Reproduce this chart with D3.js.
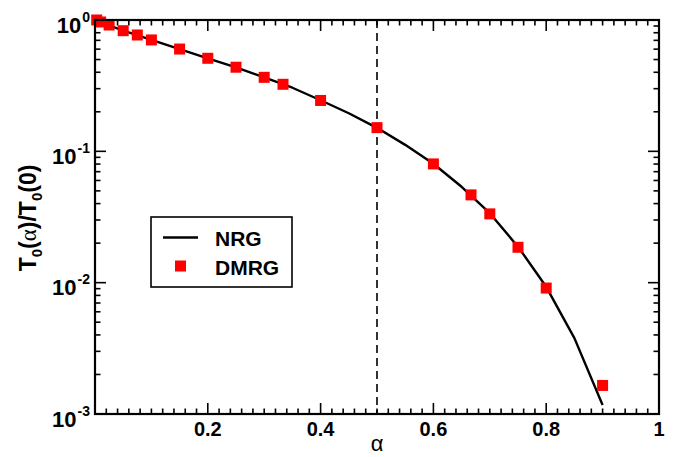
<!DOCTYPE html>
<html>
<head>
<meta charset="utf-8">
<script src="https://cdn.jsdelivr.net/npm/d3@7"></script>
<style>
  html, body { margin: 0; padding: 0; background: #fff; }
  svg { display: block; }
  text { font-family: "Liberation Sans", Arial, Helvetica, sans-serif; }
</style>
</head>
<body>
<svg id="chart" width="690" height="457"></svg>
<script>
// NRG curve: T0(alpha)/T0(0)
const nrgAlpha = [0, 0.05, 0.1, 0.15, 0.2, 0.25, 0.3, 0.35, 0.4, 0.45, 0.5, 0.55, 0.6, 0.65, 0.7, 0.75, 0.8, 0.85, 0.9];
const nrgValue = [1.0, 0.83, 0.705, 0.60, 0.51, 0.436, 0.366, 0.305, 0.245, 0.195, 0.151, 0.112, 0.0805, 0.0537, 0.0338, 0.0188, 0.0093, 0.00378, 0.00117];

// DMRG points
const dmrgAlpha = [0.003, 0.01, 0.025, 0.05, 0.075, 0.1, 0.15, 0.2, 0.25, 0.3, 1/3, 0.4, 0.5, 0.6, 2/3, 0.7, 0.75, 0.8, 0.9];
const dmrgValue = [1.0, 0.966, 0.916, 0.829, 0.769, 0.705, 0.601, 0.511, 0.437, 0.366, 0.324, 0.244, 0.1515, 0.0802, 0.0466, 0.0334, 0.0186, 0.0091, 0.00165];

// Axis ticks
const xMajorTicks = [0.2, 0.4, 0.6, 0.8, 1];
const xTickLabels = ["0.2", "0.4", "0.6", "0.8", "1"];
const yMajorTicks = [1, 0.1, 0.01, 0.001];
const yTickExponents = ["0", "-1", "-2", "-3"];
const criticalAlpha = 0.5;

const seriesNames = ["NRG", "DMRG"];

const svg = d3.select("#chart");
const pLeft = 95, pRight = 659, pTop = 20, pBottom = 414;

const x = d3.scaleLinear().domain([0, 1]).range([pLeft, pRight]);
const y = d3.scaleLog().domain([1e-3, 1]).range([pBottom, pTop]);

// minor ticks
const xMinor = d3.range(0, 1.0001, 0.02).map(v => +v.toFixed(2))
  .filter(v => !xMajorTicks.some(m => Math.abs(m - v) < 1e-9) && v > 0 && v < 1);
const yMinor = [];
[1e-3, 1e-2, 1e-1].forEach(d => { for (let k = 2; k <= 9; k++) yMinor.push(d * k); });

const major = 11, minor = 5.5;

const ticks = svg.append("g").attr("stroke", "#000").attr("stroke-width", 1.6);
// bottom & top x ticks
xMajorTicks.filter(v => v < 1).forEach(v => {
  ticks.append("line").attr("x1", x(v)).attr("x2", x(v)).attr("y1", pBottom).attr("y2", pBottom - major);
  ticks.append("line").attr("x1", x(v)).attr("x2", x(v)).attr("y1", pTop).attr("y2", pTop + major);
});
xMinor.forEach(v => {
  ticks.append("line").attr("x1", x(v)).attr("x2", x(v)).attr("y1", pBottom).attr("y2", pBottom - minor);
  ticks.append("line").attr("x1", x(v)).attr("x2", x(v)).attr("y1", pTop).attr("y2", pTop + minor);
});
// left & right y ticks
yMajorTicks.forEach(v => {
  ticks.append("line").attr("x1", pLeft).attr("x2", pLeft + major).attr("y1", y(v)).attr("y2", y(v));
  ticks.append("line").attr("x1", pRight).attr("x2", pRight - major).attr("y1", y(v)).attr("y2", y(v));
});
yMinor.forEach(v => {
  ticks.append("line").attr("x1", pLeft).attr("x2", pLeft + minor).attr("y1", y(v)).attr("y2", y(v));
  ticks.append("line").attr("x1", pRight).attr("x2", pRight - minor).attr("y1", y(v)).attr("y2", y(v));
});

// dashed vertical line at alpha = 0.5
svg.append("line")
  .attr("x1", x(criticalAlpha)).attr("x2", x(criticalAlpha))
  .attr("y1", pTop).attr("y2", pBottom)
  .attr("stroke", "#000").attr("stroke-width", 1.6)
  .attr("stroke-dasharray", "8,5");

// NRG curve
const line = d3.line().x(d => x(d[0])).y(d => y(d[1]));
svg.append("path")
  .datum(nrgAlpha.map((a, i) => [a, nrgValue[i]]))
  .attr("d", line)
  .attr("fill", "none")
  .attr("stroke", "#000")
  .attr("stroke-width", 2.4)
  .attr("stroke-linejoin", "round");

// DMRG squares
const sq = 11;
svg.append("g").selectAll("rect")
  .data(dmrgAlpha.map((a, i) => [a, dmrgValue[i]]))
  .join("rect")
  .attr("x", d => x(d[0]) - sq / 2)
  .attr("y", d => y(d[1]) - sq / 2)
  .attr("width", sq).attr("height", sq)
  .attr("fill", "#ff0000");

// frame
svg.append("rect")
  .attr("x", pLeft).attr("y", pTop)
  .attr("width", pRight - pLeft).attr("height", pBottom - pTop)
  .attr("fill", "none").attr("stroke", "#000").attr("stroke-width", 2.2);

// x tick labels
svg.append("g").selectAll("text")
  .data(xMajorTicks)
  .join("text")
  .attr("x", d => x(d))
  .attr("y", 436)
  .attr("text-anchor", "middle")
  .attr("font-size", 20)
  .attr("font-weight", "bold")
  .text((d, i) => xTickLabels[i]);

// y tick labels 10^n
yMajorTicks.forEach((v, i) => {
  const t = svg.append("text")
    .attr("x", 90)
    .attr("y", y(v) + 12.5)
    .attr("text-anchor", "end")
    .attr("font-weight", "bold");
  t.append("tspan").attr("font-size", 22).text("10");
  t.append("tspan").attr("font-size", 14).attr("dy", -11).attr("dx", 1).text(yTickExponents[i]);
});

// x axis label
svg.append("text")
  .attr("x", x(0.5))
  .attr("y", 451)
  .attr("text-anchor", "middle")
  .attr("font-family", "'Liberation Serif', 'DejaVu Serif', serif")
  .attr("font-size", 22)
  .text("α");

// y axis label
const yl = svg.append("text")
  .attr("transform", `translate(36,${(pTop + pBottom) / 2 + 1}) rotate(-90)`)
  .attr("text-anchor", "middle")
  .attr("font-size", 23)
  .attr("font-weight", "bold");
yl.append("tspan").text("T");
yl.append("tspan").attr("font-size", 15).attr("dy", 6).text("0");
yl.append("tspan").attr("dy", -6).text("(");
yl.append("tspan").attr("font-family", "'Liberation Serif', serif").attr("font-weight", "normal").text("α");
yl.append("tspan").text(")/T");
yl.append("tspan").attr("font-size", 15).attr("dy", 6).text("0");
yl.append("tspan").attr("dy", -6).text("(0)");

// legend
const lg = svg.append("g");
lg.append("rect")
  .attr("x", 151).attr("y", 217).attr("width", 141).attr("height", 70)
  .attr("fill", "#fff").attr("stroke", "#000").attr("stroke-width", 1.6);
lg.append("line")
  .attr("x1", 163).attr("x2", 198).attr("y1", 237.5).attr("y2", 237.5)
  .attr("stroke", "#000").attr("stroke-width", 2.4);
lg.append("rect")
  .attr("x", 180.5 - sq / 2).attr("y", 266 - sq / 2).attr("width", sq).attr("height", sq)
  .attr("fill", "#ff0000");
lg.append("text").attr("x", 215).attr("y", 246).attr("font-size", 21).attr("font-weight", "bold").text(seriesNames[0]);
lg.append("text").attr("x", 215).attr("y", 274.5).attr("font-size", 21).attr("font-weight", "bold").text(seriesNames[1]);
</script>
</body>
</html>
